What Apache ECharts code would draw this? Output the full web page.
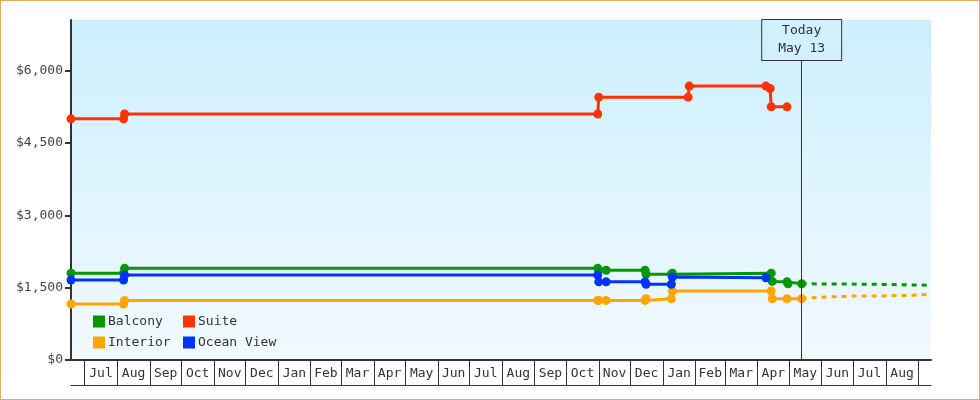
<!DOCTYPE html>
<html><head><meta charset="utf-8">
<script src="https://cdn.jsdelivr.net/npm/echarts@6/dist/echarts.min.js"></script>
<style>
html,body{margin:0;padding:0;background:#fff}
#c{width:980px;height:400px;position:absolute;left:0;top:0}
#b{position:absolute;left:0;top:0;width:980px;height:400px;box-sizing:border-box;border:1px solid #e8a963;pointer-events:none}
</style>
</head><body><div id="c"></div><div id="b"></div>
<script>
// ---- data ----
const balcony = [['2023-06-18',1800],['2023-08-07',1800],['2023-08-08',1900],['2024-10-31',1900],['2024-11-01',1860],['2024-11-08',1860],['2024-12-15',1860],['2024-12-16',1780],['2025-01-09',1780],['2025-01-10',1800],['2025-04-14',1800],['2025-04-15',1630],['2025-04-29',1620],['2025-04-30',1580],['2025-05-13',1580]];
const suite = [['2023-06-18',5000],['2023-08-07',5000],['2023-08-08',5100],['2024-10-31',5100],['2024-11-01',5450],['2025-01-25',5450],['2025-01-26',5680],['2025-04-09',5680],['2025-04-13',5630],['2025-04-14',5250],['2025-04-29',5250]];
const interior = [['2023-06-18',1160],['2023-08-07',1160],['2023-08-08',1235],['2024-10-31',1235],['2024-11-01',1235],['2024-11-08',1235],['2024-12-15',1235],['2024-12-16',1270],['2025-01-09',1270],['2025-01-10',1430],['2025-04-14',1430],['2025-04-15',1270],['2025-04-29',1270],['2025-05-13',1270]];
const oceanView = [['2023-06-18',1660],['2023-08-07',1660],['2023-08-08',1760],['2024-10-31',1760],['2024-11-01',1620],['2024-11-08',1620],['2024-12-15',1620],['2024-12-16',1570],['2025-01-09',1570],['2025-01-10',1720],['2025-04-09',1705]];
const balconyForecast = [['2025-05-13',1580],['2025-07-14',1572],['2025-07-15',1550],['2025-09-13',1550]];
const interiorForecast = [['2025-05-13',1270],['2025-05-20',1290],['2025-06-05',1305],['2025-06-28',1325],['2025-07-27',1327],['2025-07-28',1341],['2025-08-27',1343],['2025-08-28',1362],['2025-09-13',1362]];
const seriesNames = ['Balcony','Suite','Interior','Ocean View'];
const monthNames = ['Jan','Feb','Mar','Apr','May','Jun','Jul','Aug','Sep','Oct','Nov','Dec'];
const monthStarts = ['2023-07-01','2023-08-01','2023-09-01','2023-10-01','2023-11-01','2023-12-01','2024-01-01','2024-02-01','2024-03-01','2024-04-01','2024-05-01','2024-06-01','2024-07-01','2024-08-01','2024-09-01','2024-10-01','2024-11-01','2024-12-01','2025-01-01','2025-02-01','2025-03-01','2025-04-01','2025-05-01','2025-06-01','2025-07-01','2025-08-01','2025-09-01'];
const yTicks = [0,1500,3000,4500,6000];
const xMin = '2023-06-18', xMax = '2025-09-13';
const yMax = 7050;
const todayDate = '2025-05-13', todayText = 'Today\nMay 13', todayMarkerTop = 6220;

// ---- chart ----
const colors = {Balcony:'#009900', Suite:'#ff3300', Interior:'#ffa500', 'Ocean View':'#0033ff'};
const font = "'DejaVu Sans Mono', monospace";
const ts = s => new Date(s + 'T00:00:00').getTime();
const tickVals = monthStarts.map(ts);
const labelVals = tickVals.slice(0, -1).map((t, i) => (t + tickVals[i + 1]) / 2);
const toData = arr => arr.map(d => [ts(d[0]), d[1]]);

const chart = echarts.init(document.getElementById('c'), null, {renderer: 'canvas'});
const lineSeries = (name, data) => ({
  name, type: 'line', data: toData(data), color: colors[name],
  symbol: 'circle', symbolSize: 9, showSymbol: true,
  lineStyle: {width: 3, color: colors[name]}, itemStyle: {color: colors[name]},
  silent: true, animation: false, emphasis: {disabled: true}
});
const forecastSeries = (name, data) => ({
  name: name + ' forecast', type: 'line', data: toData(data), color: colors[name],
  showSymbol: false, symbol: 'none',
  lineStyle: {width: 3, color: colors[name], type: [5, 5]},
  silent: true, animation: false, emphasis: {disabled: true}
});
const fc = forecastSeries('Balcony', balconyForecast);
fc.markLine = {
  silent: true, symbol: ['none', 'none'], animation: false,
  lineStyle: {color: '#333', width: 1, type: 'solid'},
  label: {
    show: true, position: 'end', distance: 0, formatter: todayText,
    fontFamily: font, fontSize: 13, color: '#333', lineHeight: 18, align: 'center',
    backgroundColor: '#cff0fc', borderColor: '#333', borderWidth: 1, padding: [2, 16, 2, 16]
  },
  data: [[{coord: [ts(todayDate), 0]}, {coord: [ts(todayDate), todayMarkerTop]}]]
};

const legendBase = {
  orient: 'vertical', top: 315, padding: 0, itemWidth: 12, itemHeight: 12, itemGap: 8, icon: 'rect',
  textStyle: {fontFamily: font, fontSize: 13, color: '#333', lineHeight: 12, padding: [0, 0, 0, -2]},
  selectedMode: false
};

chart.setOption({
  animation: false,
  grid: {left: 71, right: 49, top: 20, bottom: 40, show: true, borderWidth: 0,
    backgroundColor: new echarts.graphic.LinearGradient(0, 0, 0, 1, [{offset: 0, color: '#ccf0fd'}, {offset: 1, color: '#f2f9ff'}])},
  legend: [
    Object.assign({}, legendBase, {left: 93, data: [seriesNames[0], seriesNames[2]]}),
    Object.assign({}, legendBase, {left: 183, data: [seriesNames[1], seriesNames[3]]})
  ],
  xAxis: [{
    type: 'value', min: ts(xMin), max: ts(xMax), scale: true,
    axisLine: {show: true, onZero: false, lineStyle: {color: '#333', width: 2}},
    axisTick: {show: true, customValues: tickVals, length: 25, inside: false, lineStyle: {color: '#333', width: 1}},
    axisLabel: {show: true, customValues: labelVals, margin: 7, fontFamily: font, fontSize: 13, color: '#333',
      formatter: v => monthNames[new Date(v).getMonth()]},
    splitLine: {show: false}, minorTick: {show: false}
  }, {
    type: 'value', min: ts(xMin), max: ts(xMax), scale: true, position: 'bottom', offset: 25,
    axisLine: {show: true, onZero: false, lineStyle: {color: '#333', width: 1}},
    axisTick: {show: false}, axisLabel: {show: false}, splitLine: {show: false}
  }],
  yAxis: {
    type: 'value', min: 0, max: yMax,
    axisLine: {show: true, lineStyle: {color: '#333', width: 2}},
    axisTick: {show: true, customValues: yTicks, length: 6, lineStyle: {color: '#333', width: 2}},
    axisLabel: {show: true, customValues: yTicks, margin: 8, fontFamily: font, fontSize: 13, color: '#444',
      formatter: v => '$' + Number(v).toLocaleString('en-US')},
    splitLine: {show: false}
  },
  series: [
    lineSeries('Balcony', balcony),
    lineSeries('Suite', suite),
    lineSeries('Interior', interior),
    lineSeries('Ocean View', oceanView),
    fc,
    forecastSeries('Interior', interiorForecast)
  ]
});
</script>
</body></html>
